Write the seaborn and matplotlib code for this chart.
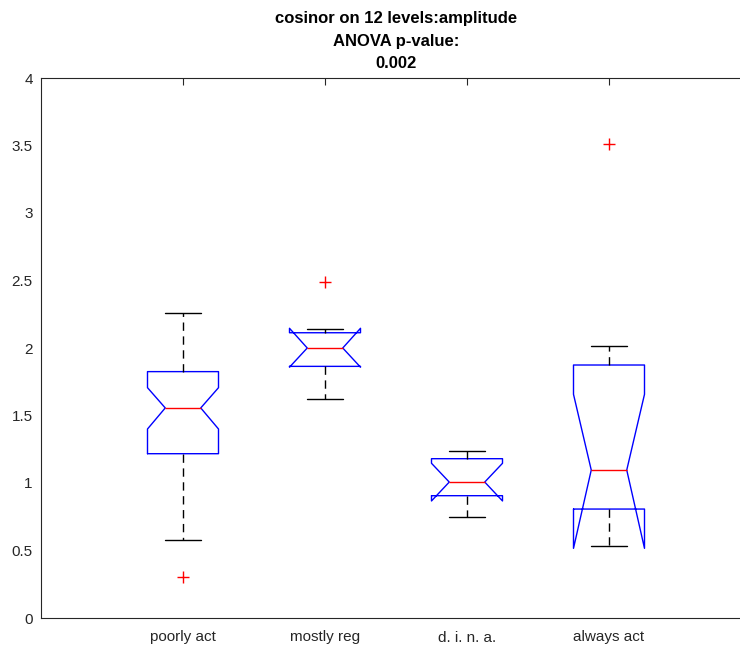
import matplotlib
matplotlib.use("Agg")
import matplotlib.pyplot as plt
import seaborn as sns
import pandas as pd

# ---- data ----
categories = ["poorly act", "mostly reg", "d. i. n. a.", "always act"]
medians = [1.556, 2.000, 1.007, 1.096]
q1 = [1.217, 1.864, 0.906, 0.807]
q3 = [1.825, 2.113, 1.180, 1.874]
whisk_lo = [0.580, 1.622, 0.746, 0.531]
whisk_hi = [2.262, 2.143, 1.239, 2.017]
notch_lo = [1.400, 1.858, 0.867, 0.516]
notch_hi = [1.706, 2.146, 1.146, 1.657]
outlier_group = ["poorly act", "mostly reg", "always act"]
outlier_vals = [0.301, 2.487, 3.510]
y_ticks = [0, 0.5, 1, 1.5, 2, 2.5, 3, 3.5, 4]
y_tick_labels = ["0", "0.5", "1", "1.5", "2", "2.5", "3", "3.5", "4"]
title_lines = ["cosinor on 12 levels:amplitude", "ANOVA p-value:", "0.002"]

sns.set_style("white")
plt.rcParams["font.family"] = ["Liberation Sans", "DejaVu Sans"]

fig = plt.figure(figsize=(7.4, 6.48), dpi=100)
ax = fig.add_axes([41 / 740, 30 / 648, 710 / 740, 540 / 648])

positions = list(range(1, len(categories) + 1))
stats = []
for i, c in enumerate(categories):
    stats.append(dict(med=medians[i], q1=q1[i], q3=q3[i], whislo=whisk_lo[i],
                      whishi=whisk_hi[i], cilo=notch_lo[i], cihi=notch_hi[i],
                      fliers=[], label=c))

ax.bxp(stats, positions=positions, widths=0.5, shownotches=True, showfliers=False,
       boxprops=dict(color="blue", linewidth=1.0),
       medianprops=dict(color="red", linewidth=1.0),
       whiskerprops=dict(color="black", linewidth=1.0, linestyle=(0, (6, 4))),
       capprops=dict(color="black", linewidth=1.0))

df_out = pd.DataFrame({"x": [positions[categories.index(g)] for g in outlier_group],
                       "y": outlier_vals})
sns.scatterplot(data=df_out, x="x", y="y", marker="+", color="red", s=70,
                linewidth=1.0, ax=ax, legend=False, zorder=5)

ax.set_xlim(0, 5)
ax.set_ylim(0, 4)
ax.set_xticks(positions)
ax.set_xticklabels(categories)
ax.set_yticks(y_ticks)
ax.set_yticklabels(y_tick_labels)
ax.set_xlabel("")
ax.set_ylabel("")
ax.tick_params(direction="in", top=True, right=True, length=5, width=0.8,
               labelsize=11, colors="#262626")
ax.tick_params(axis="x", pad=9)
ax.tick_params(axis="y", pad=6)
for s in ax.spines.values():
    s.set_color("#262626")
    s.set_linewidth(0.8)

ax.set_title("\n".join(title_lines), fontsize=12, fontweight="bold",
             color="black", pad=7, linespacing=1.62)

fig.savefig("out.png", dpi=100)
